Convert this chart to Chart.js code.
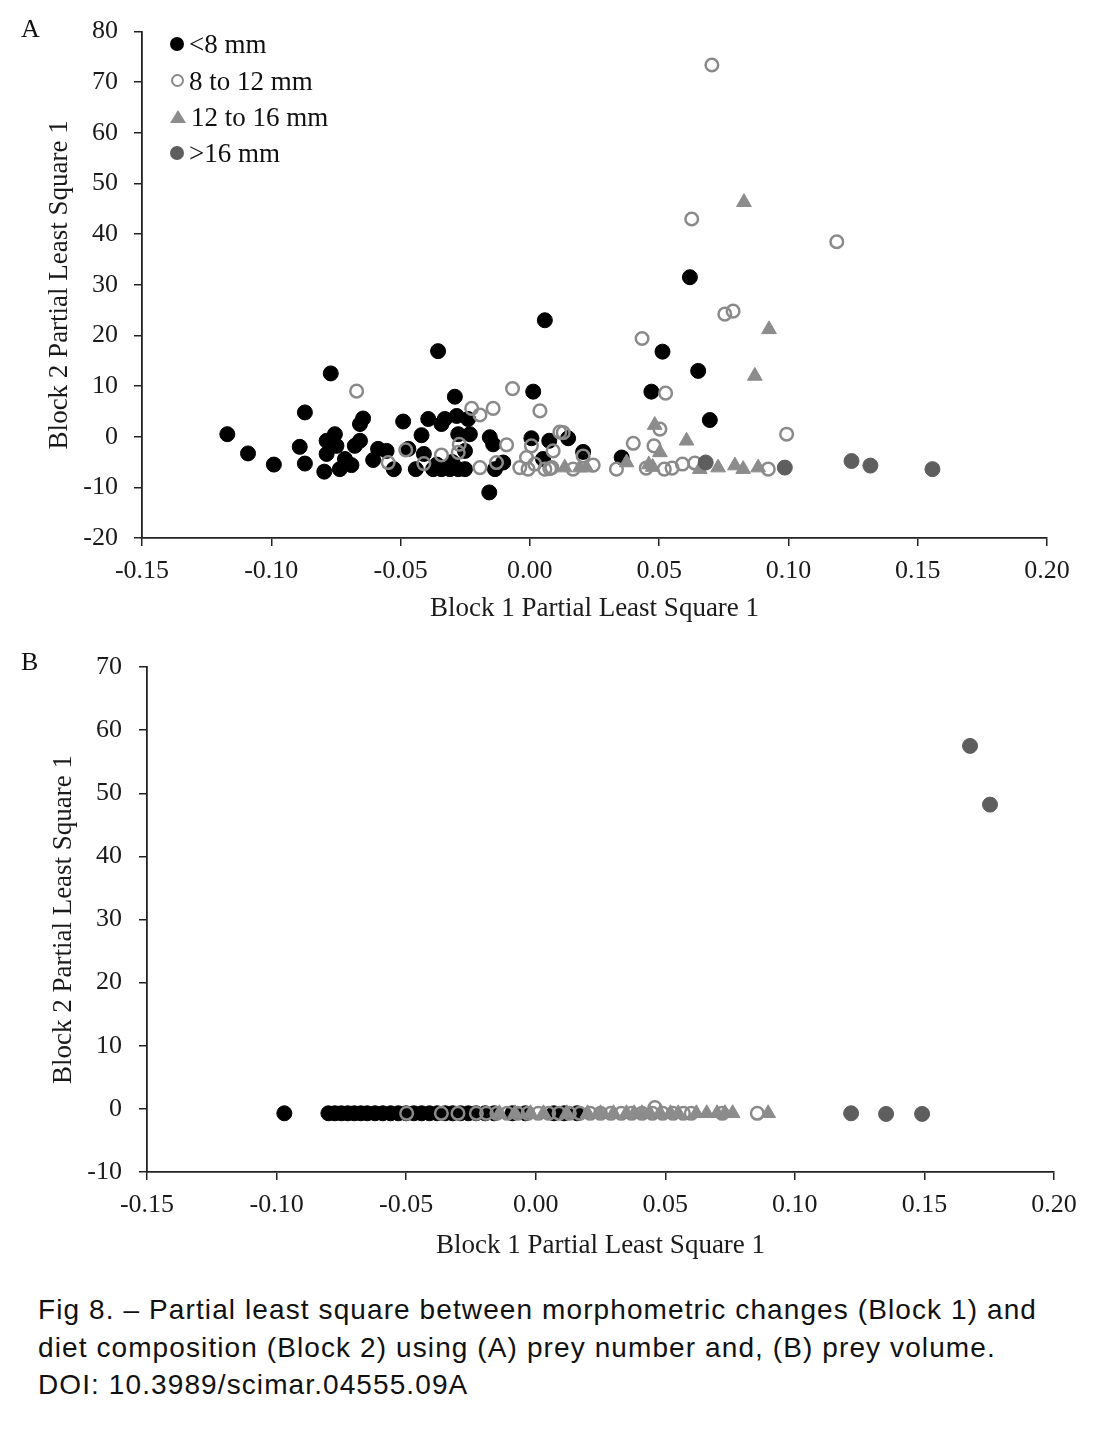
<!DOCTYPE html>
<html>
<head>
<meta charset="utf-8">
<script src="https://cdn.jsdelivr.net/npm/chart.js@4.4.1/dist/chart.umd.min.js"></script>
<style>
  html, body { margin: 0; padding: 0; background: #fff; }
  body { width: 1102px; height: 1455px; position: relative; overflow: hidden; }
  .panel { position: absolute; left: 0; width: 1102px; }
  #wrapA { top: 0; height: 640px; }
  #wrapB { top: 630px; height: 640px; }
  .tag { position: absolute; font: 26px "Liberation Serif", "Times New Roman", serif; color: #111; }
  .legend { position: absolute; left: 170px; top: 26px; font: 27px "Liberation Serif", serif; color: #111; }
  .legend div { height: 36.4px; line-height: 30px; display: flex; align-items: center; }
  .legend i { display: inline-block; width: 14px; height: 14px; margin-right: 5px; box-sizing: border-box; }
  .caption { position: absolute; left: 38px; top: 1291px; font: 28px "Liberation Sans", Arial, sans-serif; letter-spacing: 1.1px; line-height: 37.5px; color: #111; white-space: nowrap; }
</style>
</head>
<body>
<div class="panel" id="wrapA"><canvas id="chartA"></canvas></div>
<div class="panel" id="wrapB"><canvas id="chartB"></canvas></div>
<div class="tag" style="left:21px;top:14px;">A</div>
<div class="tag" style="left:21px;top:647px;">B</div>
<div class="legend">
  <div><i style="border-radius:50%;background:#000;"></i>&lt;8 mm</div>
  <div><i style="border-radius:50%;border:2px solid #8a8a8a;width:13px;height:13px;margin-left:1px;"></i>8 to 12 mm</div>
  <div><i style="width:0;height:0;border-left:8px solid transparent;border-right:8px solid transparent;border-bottom:13px solid #8c8c8c;"></i>12 to 16 mm</div>
  <div><i style="border-radius:50%;background:#5e5e5e;"></i>&gt;16 mm</div>
</div>
<div class="caption">Fig 8. – Partial least square between morphometric changes (Block 1) and<br>diet composition (Block 2) using (A) prey number and, (B) prey volume.<br>DOI: 10.3989/scimar.04555.09A</div>

<script>
// ---- Panel A: prey number ----
const seriesLabels = ['<8 mm', '8 to 12 mm', '12 to 16 mm', '>16 mm'];

const aSmallX = [-0.117, -0.109, -0.099, -0.089, -0.087, -0.087, -0.077, -0.0795, -0.0735, -0.0786, -0.0754, -0.0786, -0.0748, -0.0715, -0.069, -0.0677, -0.0657, -0.0657, -0.0645, -0.0606, -0.0587, -0.0554, -0.0526, -0.049, -0.047, -0.0441, -0.0419, -0.041, -0.0393, -0.0355, -0.0374, -0.0342, -0.0309, -0.0277, -0.0251, -0.0342, -0.0329, -0.029, -0.0283, -0.0277, -0.0251, -0.0239, -0.0232, -0.036, -0.030, -0.0155, -0.0142, -0.0157, -0.0103, -0.0135, 0.0013, 0.0058, 0.0006, 0.0075, 0.0051, 0.0148, 0.0206, 0.0355, 0.047, 0.0513, 0.0651, 0.0696, 0.0619];
const aSmallY = [0.5, -3.3, -5.5, -2, -5.3, 4.8, 12.5, -6.9, -6.4, -3.4, 0.5, -0.8, -1.8, -4.4, -5.6, -1.8, -0.8, 2.5, 3.6, -4.6, -2.4, -2.8, -6.4, 3, -2.4, -6.4, 0.3, -3.4, 3.5, 16.9, -6.4, -6.4, -6.4, -6.4, -6.4, 2.5, 3.5, 7.9, 4.1, 0.5, -2.8, 3.5, 0.5, -5.5, -5, -0.1, -1.5, -11, -5.1, -6.4, 8.9, 23, -0.3, -0.8, -4.4, -0.3, -3, -4.1, 8.9, 16.8, 13, 3.3, 31.5];

const aMidX = [-0.067, -0.0548, -0.048, -0.041, -0.0342, -0.0273, -0.0277, -0.0225, -0.0193, -0.0142, -0.0193, -0.0129, -0.009, -0.0067, 0.0039, 0.0006, -0.0013, -0.0039, -0.0007, 0.0058, 0.009, 0.0085, 0.0116, 0.0129, 0.0206, 0.0019, 0.0077, 0.0167, 0.0245, 0.0335, 0.040, 0.0434, 0.0525, 0.0503, 0.048, 0.045, 0.052, 0.055, 0.059, 0.0638, 0.0922, 0.0993, 0.0754, 0.0786, 0.0704, 0.0626, 0.1187];
const aMidY = [9, -5.1, -2.6, -5.3, -3.6, -1.5, -3.1, 5.6, 4.3, 5.6, -6.1, -5.1, -1.6, 9.5, 5.1, -1.8, -4.1, -6.1, -6.4, -6.4, -2.8, -6.1, 0.9, 0.8, -3.8, -5.4, -6.3, -6.4, -5.6, -6.4, -1.3, 19.4, 8.6, 1.5, -1.8, -6.2, -6.4, -6.2, -5.4, -5.2, -6.4, 0.5, 24.2, 24.8, 73.4, 43, 38.5];

const aLargeX = [0.0135, 0.0193, 0.0219, 0.0374, 0.046, 0.0475, 0.0483, 0.0503, 0.0606, 0.0657, 0.0728, 0.0793, 0.0825, 0.0883, 0.087, 0.0925, 0.0828];
const aLargeY = [-6.1, -6.1, -6.1, -5.1, -5.5, -6, 2.3, -3.1, -0.8, -6.4, -6.1, -5.7, -6.4, -6.1, 12, 21.2, 46.3];

const aHugeX = [0.068, 0.0986, 0.1244, 0.1317, 0.1557];
const aHugeY = [-5.1, -6.1, -4.8, -5.7, -6.4];

// ---- Panel B: prey volume ----
const bSmallX = [-0.097, -0.080, -0.0775, -0.075, -0.0725, -0.070, -0.0675, -0.065, -0.062, -0.059, -0.056, -0.053, -0.050, -0.047, -0.044, -0.041, -0.038, -0.035, -0.032, -0.029, -0.026, -0.023, -0.0195, -0.016, -0.009, -0.004, 0.007, 0.011, 0.016];
const bSmallY = [-0.7, -0.7, -0.7, -0.7, -0.7, -0.7, -0.7, -0.7, -0.7, -0.7, -0.7, -0.7, -0.7, -0.7, -0.7, -0.7, -0.7, -0.7, -0.7, -0.7, -0.7, -0.7, -0.7, -0.7, -0.7, -0.7, -0.7, -0.7, -0.7];

const bMidX = [-0.0498, -0.0364, -0.030, -0.0229, -0.019, -0.015, -0.011, -0.007, -0.003, 0.001, 0.005, 0.009, 0.013, 0.017, 0.021, 0.025, 0.029, 0.033, 0.037, 0.041, 0.045, 0.046, 0.049, 0.053, 0.057, 0.060, 0.072, 0.0855];
const bMidY = [-0.7, -0.7, -0.7, -0.7, -0.7, -0.7, -0.7, -0.7, -0.7, -0.7, -0.7, -0.7, -0.7, -0.7, -0.7, -0.7, -0.7, -0.7, -0.7, -0.7, -0.7, 0.2, -0.7, -0.7, -0.7, -0.7, -0.7, -0.7];

const bLargeX = [-0.014, -0.008, -0.002, 0.003, 0.012, 0.020, 0.025, 0.030, 0.035, 0.038, 0.041, 0.044, 0.048, 0.052, 0.055, 0.062, 0.066, 0.070, 0.073, 0.076, 0.0897];
const bLargeY = [-0.7, -0.7, -0.7, -0.7, -0.7, -0.7, -0.7, -0.7, -0.7, -0.7, -0.7, -0.7, -0.7, -0.7, -0.7, -0.7, -0.7, -0.7, -0.7, -0.7, -0.7];

const bHugeX = [0.1217, 0.1352, 0.1491, 0.1676, 0.1753];
const bHugeY = [-0.7, -0.8, -0.8, 57.5, 48.2];

const SERIF = '"Liberation Serif", "Times New Roman", serif';
const INK = '#1a1a1a';

function pts(xs, ys) {
  return xs.map((x, i) => ({ x, y: ys[i] }));
}

function buildDatasets(s, m, l, h) {
  return [
    { label: seriesLabels[0], data: s, order: 4, pointStyle: 'circle', pointRadius: 7.5,
      backgroundColor: '#000', borderColor: '#000', borderWidth: 1 },
    { label: seriesLabels[1], data: m, order: 3, pointStyle: 'circle', pointRadius: 6.3,
      backgroundColor: 'rgba(0,0,0,0)', borderColor: '#8a8a8a', borderWidth: 2.5 },
    { label: seriesLabels[2], data: l, order: 2, pointStyle: 'triangle', pointRadius: 8.5,
      backgroundColor: '#8c8c8c', borderColor: '#8c8c8c', borderWidth: 1 },
    { label: seriesLabels[3], data: h, order: 1, pointStyle: 'circle', pointRadius: 7.5,
      backgroundColor: '#5e5e5e', borderColor: '#5e5e5e', borderWidth: 1 },
  ];
}

function makeOptions(cfg) {
  const axisGrid = { drawOnChartArea: false, drawTicks: true, tickLength: 8, color: '#222', lineWidth: 1.5 };
  const axisBorder = { display: true, color: '#222', width: 1.8 };
  return {
    responsive: true,
    maintainAspectRatio: false,
    animation: false,
    layout: { padding: { left: 0, top: cfg.top, right: cfg.right, bottom: 0 } },
    plugins: { legend: { display: false }, tooltip: { enabled: false } },
    scales: {
      x: {
        type: 'linear', min: -0.15, max: 0.20,
        grid: axisGrid, border: axisBorder,
        ticks: { stepSize: 0.05, color: INK, padding: cfg.xPad, font: { family: SERIF, size: 26 },
                 callback: v => v.toFixed(2) },
        title: { display: true, text: 'Block 1 Partial Least Square 1', color: INK,
                 font: { family: SERIF, size: 27 }, padding: { top: 0, bottom: cfg.xTitlePad } },
        afterFit: s => { s.height = cfg.xHeight; },
      },
      y: {
        type: 'linear', min: cfg.yMin, max: cfg.yMax,
        grid: axisGrid, border: axisBorder,
        ticks: { stepSize: 10, color: INK, padding: cfg.yPad, font: { family: SERIF, size: 26 } },
        title: { display: true, text: 'Block 2 Partial Least Square 1', color: INK,
                 font: { family: SERIF, size: 27 }, padding: { top: cfg.yTitlePad, bottom: 0 } },
        afterFit: s => { s.width = cfg.yWidth; },
      },
    },
  };
}

new Chart(document.getElementById('chartA'), {
  type: 'scatter',
  data: { datasets: buildDatasets(pts(aSmallX, aSmallY), pts(aMidX, aMidY), pts(aLargeX, aLargeY), pts(aHugeX, aHugeY)) },
  options: makeOptions({ top: 31, right: 55, xHeight: 102, yWidth: 142, yMin: -20, yMax: 80,
                         xPad: 10, yPad: 16, xTitlePad: 15, yTitlePad: 44 }),
});

new Chart(document.getElementById('chartB'), {
  type: 'scatter',
  data: { datasets: buildDatasets(pts(bSmallX, bSmallY), pts(bMidX, bMidY), pts(bLargeX, bLargeY), pts(bHugeX, bHugeY)) },
  options: makeOptions({ top: 37, right: 48, xHeight: 98, yWidth: 147, yMin: -10, yMax: 70,
                         xPad: 10, yPad: 17, xTitlePad: 8, yTitlePad: 48 }),
});
</script>
</body>
</html>
